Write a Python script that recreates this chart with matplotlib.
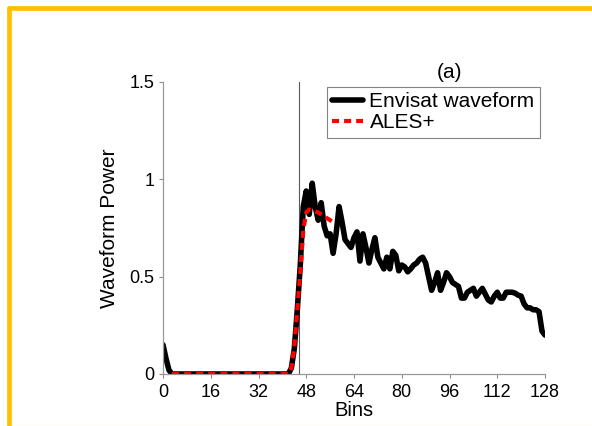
import numpy as np
import matplotlib.pyplot as plt
from matplotlib.lines import Line2D

plt.rcParams['font.family'] = ['Liberation Sans', 'DejaVu Sans']

# Envisat waveform power per range bin (0..128)
wf_bins = list(range(0, 129))
wf_power = [
    0.15, 0.08, 0.02, 0.0,
    0.0, 0.0, 0.0, 0.0, 0.0, 0.0, 0.0, 0.0, 0.0, 0.0,
    0.0, 0.0, 0.0, 0.0, 0.0, 0.0, 0.0, 0.0, 0.0, 0.0,
    0.0, 0.0, 0.0, 0.0, 0.0, 0.0, 0.0, 0.0, 0.0, 0.0,
    0.0, 0.0, 0.0, 0.0, 0.0, 0.0, 0.0, 0.0, 0.0,
    0.03, 0.13, 0.33, 0.56, 0.86, 0.94, 0.82, 0.98, 0.86, 0.79,
    0.88, 0.76, 0.71, 0.72, 0.62, 0.72, 0.86, 0.78, 0.69, 0.67,
    0.65, 0.70, 0.73, 0.58, 0.72, 0.65, 0.57, 0.64, 0.70, 0.60,
    0.57, 0.54, 0.60, 0.54, 0.63, 0.61, 0.53, 0.56, 0.55, 0.525,
    0.54, 0.56, 0.57, 0.59, 0.60, 0.57, 0.50, 0.43, 0.47, 0.52,
    0.43, 0.47, 0.52, 0.50, 0.47, 0.46, 0.45, 0.39, 0.39, 0.42,
    0.43, 0.44, 0.40, 0.42, 0.44, 0.41, 0.38, 0.37, 0.40, 0.42,
    0.39, 0.39, 0.42, 0.42, 0.42, 0.415, 0.405, 0.40, 0.36, 0.34,
    0.34, 0.33, 0.33, 0.32, 0.22, 0.20,
]

# ALES+ fitted model over the retracking subwaveform (bins 3..58)
ales_bins = list(range(3, 59))
ales_power = [
    0.0, 0.0, 0.0, 0.0, 0.0, 0.0, 0.0, 0.0, 0.0, 0.0,
    0.0, 0.0, 0.0, 0.0, 0.0, 0.0, 0.0, 0.0, 0.0, 0.0,
    0.0, 0.0, 0.0, 0.0, 0.0, 0.0, 0.0, 0.0, 0.0, 0.0,
    0.0, 0.0, 0.0, 0.0, 0.0, 0.0, 0.0, 0.0, 0.0, 0.0,
    0.03, 0.14, 0.33, 0.52, 0.74, 0.83, 0.845, 0.84, 0.835, 0.83,
    0.82, 0.81, 0.80, 0.79, 0.78, 0.775,
]

retrack_bin = 45.6
xticks = [0, 16, 32, 48, 64, 80, 96, 112, 128]
yticks = [0, 0.5, 1, 1.5]
ytick_labels = ['0', '0.5', '1', '1.5']

W, H = 592, 426
fig = plt.figure(figsize=(W / 100, H / 100), dpi=100)
ax = fig.add_axes([163 / W, 1 - 374 / H, (545 - 163) / W, (374 - 82) / H])

ax.axvline(retrack_bin, color='0.35', lw=0.8, zorder=1)
ax.plot(wf_bins, wf_power, color='black', lw=4.0,
        solid_joinstyle='round', solid_capstyle='round',
        label='Envisat waveform', zorder=2)
ax.plot(ales_bins, ales_power, color='#ff0000', lw=3.0,
        linestyle=(0, (1.7, 1.2)), dash_capstyle='butt',
        label='ALES+', zorder=3)

ax.set_xlim(0, 128)
ax.set_ylim(0, 1.5)
ax.set_xticks(xticks)
ax.set_xticklabels([str(t) for t in xticks])
ax.set_yticks(yticks)
ax.set_yticklabels(ytick_labels)
ax.tick_params(labelsize=13, length=3, width=0.8, color='0.55')
ax.tick_params(axis='x', pad=4)
ax.tick_params(axis='y', pad=3)

for side in ['top', 'right']:
    ax.spines[side].set_visible(False)
for side in ['left', 'bottom']:
    ax.spines[side].set_color('0.6')
    ax.spines[side].set_linewidth(0.9)

ax.set_xlabel('Bins', fontsize=14.5, labelpad=0.5)
ax.set_ylabel('Waveform Power', fontsize=15, labelpad=8)
ax.text(96, 1.5, '(a)', fontsize=15, ha='center', va='bottom')

leg = ax.legend(loc='upper right', fontsize=15, frameon=True, fancybox=False,
                borderaxespad=0.25, borderpad=0.25, labelspacing=0.1,
                handlelength=1.5, handletextpad=0.3)
leg.get_frame().set_edgecolor('0.4')
leg.get_frame().set_linewidth(0.8)

# orange slide frame along top and left
fig.add_artist(Line2D([8.5 / W, 1.05], [1 - 7.5 / H, 1 - 7.5 / H],
                      transform=fig.transFigure, color='#ffc000', lw=3.4,
                      solid_capstyle='round'))
fig.add_artist(Line2D([8.5 / W, 8.5 / W], [1 - 7.5 / H, -0.05],
                      transform=fig.transFigure, color='#ffc000', lw=3.4,
                      solid_capstyle='round'))
fig.add_artist(Line2D([8.5 / W, 1.05], [0.5 / H, 0.5 / H],
                      transform=fig.transFigure, color='#ffe680', lw=1.0,
                      alpha=0.6))

fig.savefig('out.png', dpi=100)
